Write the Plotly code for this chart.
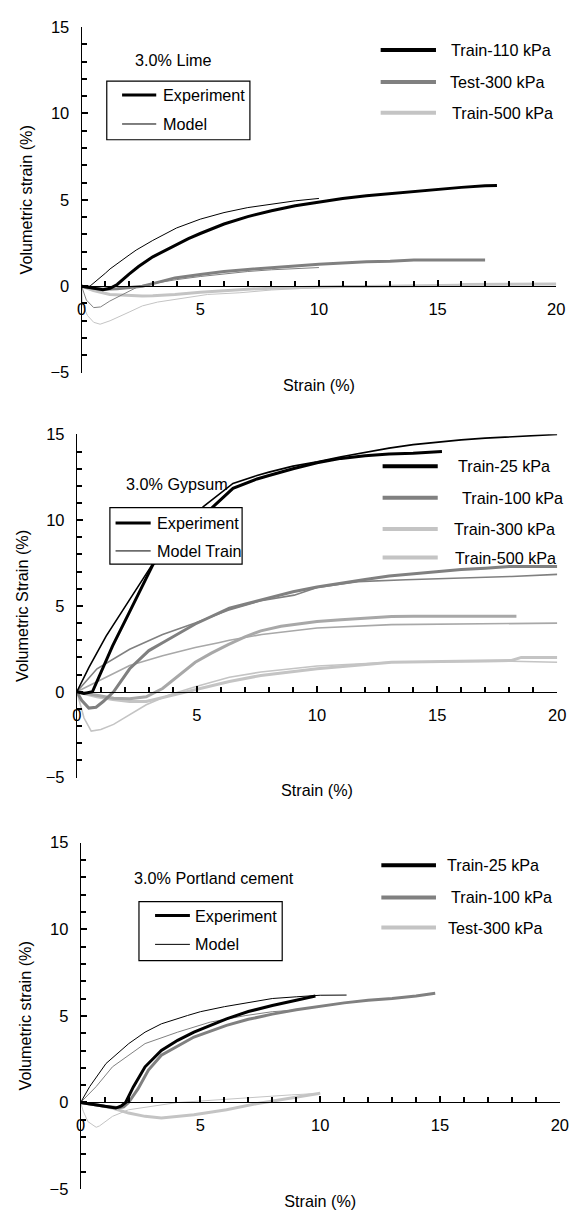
import plotly.graph_objects as go

# ---------------- data ----------------
# Panel 1: 3.0% Lime
lime_exp110_x = [0, 0.5, 0.9, 1.2, 1.5, 2, 2.4, 3, 3.5, 4, 4.5, 5, 6, 7, 8, 9, 10, 11, 12, 13, 14, 15, 16, 17, 17.5]
lime_exp110_y = [0, -0.12, -0.2, -0.12, 0.1, 0.7, 1.14, 1.7, 2.05, 2.4, 2.75, 3.05, 3.6, 4.03, 4.37, 4.66, 4.89, 5.08, 5.23, 5.36, 5.5, 5.63, 5.72, 5.81, 5.83]
lime_mod110_x = [0, 0.35, 1, 1.2, 2, 2.3, 3, 3.4, 4, 5, 6, 7, 8, 9, 10]
lime_mod110_y = [0, 0, 0.75, 1.0, 1.8, 2.09, 2.65, 2.95, 3.37, 3.88, 4.26, 4.55, 4.75, 4.94, 5.08]
lime_exp300_x = [0, 0.5, 0.9, 1.5, 2, 2.56, 3, 3.93, 5, 6, 7, 8, 9, 10, 11, 12, 13, 14, 15, 16, 17]
lime_exp300_y = [0, -0.1, -0.18, -0.15, -0.08, 0, 0.15, 0.48, 0.68, 0.85, 0.97, 1.08, 1.16, 1.27, 1.34, 1.42, 1.44, 1.52, 1.52, 1.52, 1.52]
lime_mod300_x = [0, 0.2, 0.51, 0.8, 1.19, 1.88, 2.42, 3, 4, 5, 6, 7, 8, 9, 10]
lime_mod300_y = [0, -0.8, -1.24, -1.2, -0.86, -0.38, 0, 0.15, 0.38, 0.56, 0.72, 0.85, 0.95, 1.02, 1.08]
lime_exp500_x = [0, 0.5, 1.19, 2, 2.56, 3, 3.93, 5, 6, 7, 8, 9, 10, 11, 12, 13, 14, 15, 15.9, 16, 17, 18, 19, 20]
lime_exp500_y = [0, -0.25, -0.48, -0.55, -0.57, -0.55, -0.48, -0.35, -0.24, -0.17, -0.12, -0.08, -0.05, -0.02, -0.02, 0, 0, 0.02, 0.05, 0.1, 0.1, 0.12, 0.12, 0.12]
lime_mod500_x = [0, 0.03, 0.25, 0.51, 0.78, 1.2, 2, 2.56, 3.2, 3.93, 5.3, 6.67, 8, 9, 10, 11]
lime_mod500_y = [0, -1.05, -1.7, -2.09, -2.2, -2.0, -1.5, -1.14, -0.92, -0.76, -0.48, -0.38, -0.22, -0.15, -0.08, 0]

# Panel 2: 3.0% Gypsum
gyp_exp25_x = [0, 0.3, 0.65, 1, 1.49, 2.17, 2.6, 3.18, 4, 4.8, 5.69, 6.5, 7.5, 8, 9, 10, 11, 12, 13, 14, 15, 15.2]
gyp_exp25_y = [0, -0.1, 0, 1.1, 2.67, 4.58, 5.8, 7.44, 8.5, 9.6, 10.8, 11.85, 12.4, 12.6, 13.0, 13.35, 13.6, 13.75, 13.85, 13.9, 14.0, 14.0]
gyp_mod25_x = [0, 0.5, 1.22, 2.17, 3.15, 4, 4.6, 5.28, 6.5, 7.5, 8, 9, 10, 11, 12, 13, 14, 15, 16, 17, 18, 19, 20]
gyp_mod25_y = [0, 1.4, 3.24, 5.34, 7.44, 8.9, 9.9, 10.8, 12.14, 12.6, 12.8, 13.15, 13.4, 13.7, 13.95, 14.2, 14.4, 14.55, 14.68, 14.78, 14.86, 14.93, 15.0]
gyp_exp100_x = [0, 0.2, 0.5, 0.8, 1.1, 1.53, 2.2, 3, 3.57, 4.93, 6.35, 7.66, 9, 10, 11, 12, 13, 14, 15, 16, 17, 18, 19, 20]
gyp_exp100_y = [0, -0.5, -0.95, -0.9, -0.57, 0, 1.34, 2.4, 2.86, 3.95, 4.87, 5.35, 5.83, 6.11, 6.34, 6.54, 6.75, 6.88, 7.03, 7.13, 7.2, 7.3, 7.3, 7.3]
gyp_mod100_x = [0, 0.84, 2.2, 3.57, 4.93, 6.3, 7.66, 9.05, 10, 11.7, 13.7, 15, 18.1, 20]
gyp_mod100_y = [0, 1.34, 2.48, 3.34, 4.0, 4.75, 5.3, 5.63, 6.08, 6.42, 6.53, 6.58, 6.72, 6.84]
gyp_exp300_x = [0, 0.8, 1.53, 2.2, 2.89, 3.57, 4.25, 4.93, 5.6, 6.3, 7, 7.66, 8.5, 10, 11, 12, 13.1, 14, 16, 18.3]
gyp_exp300_y = [0, -0.2, -0.38, -0.4, -0.29, 0.19, 0.95, 1.72, 2.25, 2.75, 3.2, 3.55, 3.82, 4.1, 4.2, 4.3, 4.39, 4.4, 4.4, 4.4]
gyp_mod300_x = [0, 0.84, 2.2, 3.57, 4.93, 5.9, 6.35, 7.7, 10, 13.1, 18.1, 20]
gyp_mod300_y = [0, 0.57, 1.53, 2.1, 2.58, 2.86, 3.0, 3.34, 3.72, 3.91, 4.0, 4.0]
gyp_exp500_x = [0, 0.84, 1.5, 2.2, 2.89, 3.98, 4.93, 6.35, 7.66, 10, 13.1, 16, 18.1, 18.5, 20]
gyp_exp500_y = [0, -0.29, -0.45, -0.57, -0.57, -0.19, 0.1, 0.6, 0.95, 1.34, 1.72, 1.8, 1.82, 2.0, 2.0]
gyp_mod500_x = [0, 0.3, 0.6, 1.0, 1.53, 2.2, 2.89, 3.84, 4.93, 6.35, 7.66, 10, 13.1, 18.1, 20]
gyp_mod500_y = [0, -1.53, -2.29, -2.2, -1.9, -1.34, -0.76, -0.19, 0.29, 0.85, 1.15, 1.5, 1.72, 1.78, 1.72]

# Panel 3: 3.0% Portland cement
pc_exp25_x = [0, 0.5, 1.0, 1.47, 1.7, 1.88, 2.2, 2.69, 3.37, 4.05, 4.73, 6.09, 7, 8, 9, 9.8]
pc_exp25_y = [0, -0.12, -0.22, -0.32, -0.2, 0, 0.9, 2.06, 3.0, 3.59, 4.06, 4.83, 5.25, 5.6, 5.9, 6.15]
pc_mod25_x = [0, 0.38, 1.06, 2.01, 2.69, 3.37, 4.46, 5, 6, 7, 8, 9, 10, 11.1]
pc_mod25_y = [0, 0.92, 2.25, 3.4, 4.06, 4.54, 5.02, 5.24, 5.53, 5.77, 6.0, 6.1, 6.19, 6.2]
pc_exp100_x = [0, 0.5, 1.0, 1.6, 1.8, 2.0, 2.4, 2.83, 3.37, 4.73, 6.09, 7, 8, 9, 10, 11, 12, 13, 14, 14.8]
pc_exp100_y = [0, -0.12, -0.22, -0.3, -0.25, 0, 0.8, 1.87, 2.73, 3.78, 4.45, 4.8, 5.1, 5.35, 5.55, 5.75, 5.9, 6.0, 6.15, 6.3]
pc_mod100_x = [0, 0.65, 1.33, 2.69, 4.05, 5.41, 6.9, 8, 9]
pc_mod100_y = [0, 0.92, 2.06, 3.4, 4.06, 4.64, 5.02, 5.24, 5.34]
pc_exp300_x = [0, 0.65, 1.33, 2.0, 2.69, 3.37, 4.73, 6.09, 7.45, 8.8, 10]
pc_exp300_y = [0, -0.13, -0.32, -0.61, -0.8, -0.9, -0.71, -0.42, -0.04, 0.25, 0.53]
pc_mod300_x = [0, 0.11, 0.3, 0.65, 0.79, 1.33, 2.0, 3.37, 4.05, 4.73, 6.09, 7.45, 8.8, 10]
pc_mod300_y = [0, -0.5, -1.1, -1.43, -1.35, -0.8, -0.42, -0.13, 0, 0.06, 0.19, 0.34, 0.44, 0.53]

panel_titles = ["3.0% Lime", "3.0% Gypsum", "3.0% Portland cement"]
y_titles = ["Volumetric strain (%)", "Volumetric Strain (%)", "Volumetric strain (%)"]
x_title = "Strain (%)"
series_labels = [
    ["Train-110 kPa", "Test-300 kPa", "Train-500 kPa"],
    ["Train-25 kPa", "Train-100 kPa", "Train-300 kPa", "Train-500 kPa"],
    ["Train-25 kPa", "Train-100 kPa", "Test-300 kPa"],
]
key_labels = [["Experiment", "Model"], ["Experiment", "Model Train"], ["Experiment", "Model"]]

# ---------------- styling / layout ----------------
W, H = 577, 1227
FONT = "Liberation Sans, Arial, sans-serif"
TXT = 16.2
BLACK, GRAY, GRAY2, LIGHT = "#000000", "#808080", "#a8a8a8", "#c4c4c4"


def PX(x):
    return x / W


def PY(y):
    return 1 - y / H


panels = [
    dict(x0=78.5, x1=565.0, ytop=18.3, ybot=369.0, model_w=1.0,
         series=[(lime_exp110_x, lime_exp110_y, lime_mod110_x, lime_mod110_y, BLACK),
                 (lime_exp300_x, lime_exp300_y, lime_mod300_x, lime_mod300_y, GRAY),
                 (lime_exp500_x, lime_exp500_y, lime_mod500_x, lime_mod500_y, LIGHT)],
         colors=[BLACK, GRAY, LIGHT],
         title_pos=(131.5, 51.7),
         box=(104.3, 73.3, 251.0, 132.7), key_x=(120.0, 155.0), key_y=(87.3, 116.7), key_tx=159.5,
         leg_x=(385.0, 441.7), leg_y=[41.7, 74.0, 105.3], leg_tx=[455.5, 454.0, 456.3]),
    dict(x0=73.6, x1=566.0, ytop=431.7, ybot=780.0, model_w=1.6,
         series=[(gyp_exp25_x, gyp_exp25_y, gyp_mod25_x, gyp_mod25_y, BLACK),
                 (gyp_exp100_x, gyp_exp100_y, gyp_mod100_x, gyp_mod100_y, GRAY),
                 (gyp_exp300_x, gyp_exp300_y, gyp_mod300_x, gyp_mod300_y, GRAY2),
                 (gyp_exp500_x, gyp_exp500_y, gyp_mod500_x, gyp_mod500_y, LIGHT)],
         colors=[BLACK, GRAY, LIGHT, LIGHT],
         title_pos=(122.0, 481.7),
         box=(107.5, 506.0, 243.0, 563.3), key_x=(113.3, 149.3), key_y=(521.7, 550.0), key_tx=153.8,
         leg_x=(387.0, 443.5), leg_y=[464.0, 496.0, 527.7, 556.7], leg_tx=[461.8, 466.2, 458.1, 459.6]),
    dict(x0=77.5, x1=568.6, ytop=846.0, ybot=1197.7, model_w=1.0,
         series=[(pc_exp25_x, pc_exp25_y, pc_mod25_x, pc_mod25_y, BLACK),
                 (pc_exp100_x, pc_exp100_y, pc_mod100_x, pc_mod100_y, GRAY),
                 (pc_exp300_x, pc_exp300_y, pc_mod300_x, pc_mod300_y, LIGHT)],
         colors=[BLACK, GRAY, LIGHT],
         title_pos=(130.6, 881.7),
         box=(137.3, 906.0, 284.1, 965.7), key_x=(153.8, 189.5), key_y=(920.0, 949.3), key_tx=193.1,
         leg_x=(385.7, 441.7), leg_y=[869.0, 901.7, 932.3], leg_tx=[450.8, 455.2, 451.5]),
]

fig = go.Figure()
shapes, annotations = [], []
layout_axes = {}

for i, p in enumerate(panels):
    n = "" if i == 0 else str(i + 1)
    xa, ya = "x" + n, "y" + n
    # data traces (light first so black is on top)
    for k, (ex, ey, mx, my, col) in reversed(list(enumerate(p["series"]))):
        name = series_labels[i][k]
        fig.add_trace(go.Scatter(x=mx, y=my, mode="lines", name=name + " model",
                                 line=dict(color=col, width=p["model_w"]),
                                 xaxis=xa, yaxis=ya, showlegend=False, hoverinfo="skip"))
        fig.add_trace(go.Scatter(x=ex, y=ey, mode="lines", name=name + " experiment",
                                 line=dict(color=col, width=3),
                                 xaxis=xa, yaxis=ya, showlegend=False, hoverinfo="skip"))
    dy0, dy1 = PY(p["ybot"]), PY(p["ytop"])
    xpos = dy0 + 0.25 * (dy1 - dy0)        # paper position of y = 0 (range -5..15)
    layout_axes["xaxis" + n] = dict(
        domain=[PX(p["x0"]), PX(p["x1"])], range=[0, 20], anchor="free", position=xpos,
        showline=True, linecolor="black",
        ticks="inside", ticklen=6, tickwidth=2, tickcolor="black", dtick=5,
        minor=dict(dtick=1, ticks="inside", ticklen=5, tickwidth=2, tickcolor="black"),
        gridcolor="rgba(0,0,0,0)", zeroline=False, tickfont=dict(size=16.5, color="black"),
        ticklabelstandoff=8,
        title=dict(text=x_title, font=dict(size=TXT, color="black"), standoff=62),
    )
    layout_axes["yaxis" + n] = dict(
        domain=[dy0, dy1], range=[-5, 15], anchor=xa,
        showline=True, linecolor="black",
        ticks="inside", ticklen=6, tickwidth=2, tickcolor="black", dtick=5,
        minor=dict(dtick=1, ticks="inside", ticklen=5, tickwidth=2, tickcolor="black"),
        gridcolor="rgba(0,0,0,0)", zeroline=False, tickfont=dict(size=16.5, color="black"),
        ticklabelstandoff=8,
        title=dict(text=y_titles[i], font=dict(size=TXT, color="black"), standoff=13),
    )
    # panel title
    tx, ty = p["title_pos"]
    annotations.append(dict(text=panel_titles[i], x=PX(tx), y=PY(ty), xref="paper", yref="paper",
                            xanchor="left", yanchor="middle", showarrow=False,
                            font=dict(size=TXT, color="black")))
    # Experiment / Model key box
    bx0, by0, bx1, by1 = p["box"]
    shapes.append(dict(type="rect", xref="paper", yref="paper", x0=PX(bx0), x1=PX(bx1),
                       y0=PY(by1), y1=PY(by0), line=dict(color="black", width=1.2),
                       fillcolor="white", layer="above"))
    for j, (lbl, w) in enumerate(zip(key_labels[i], [3, 1])):
        yy = p["key_y"][j]
        shapes.append(dict(type="line", xref="paper", yref="paper", x0=PX(p["key_x"][0]),
                           x1=PX(p["key_x"][1]), y0=PY(yy), y1=PY(yy),
                           line=dict(color="black", width=w), layer="above"))
        annotations.append(dict(text=lbl, x=PX(p["key_tx"]), y=PY(yy), xref="paper", yref="paper",
                                xanchor="left", yanchor="middle", showarrow=False,
                                font=dict(size=TXT, color="black")))
    # series legend
    for j, lbl in enumerate(series_labels[i]):
        yy = p["leg_y"][j]
        shapes.append(dict(type="line", xref="paper", yref="paper", x0=PX(p["leg_x"][0]),
                           x1=PX(p["leg_x"][1]), y0=PY(yy), y1=PY(yy),
                           line=dict(color=p["colors"][j], width=4), layer="above"))
        annotations.append(dict(text=lbl, x=PX(p["leg_tx"][j]), y=PY(yy), xref="paper", yref="paper",
                                xanchor="left", yanchor="middle", showarrow=False,
                                font=dict(size=TXT, color="black")))

fig.update_layout(
    width=W, height=H, margin=dict(l=0, r=0, t=0, b=0),
    paper_bgcolor="white", plot_bgcolor="white",
    font=dict(family=FONT, size=TXT, color="black"),
    showlegend=False, shapes=shapes, annotations=annotations,
    **layout_axes,
)

fig.write_html("out.html", config={"displayModeBar": False},
               post_script="document.body.style.margin='0';")
